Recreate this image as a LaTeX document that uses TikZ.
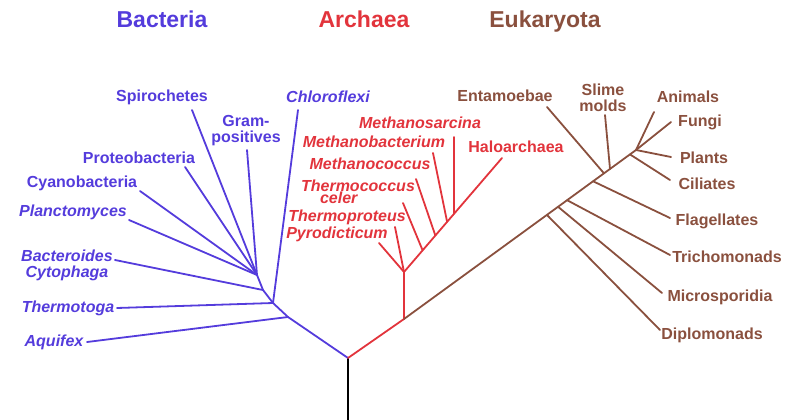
\documentclass[tikz,border=0pt]{standalone}
\usepackage{fontspec}
\setmainfont{Liberation Sans}
\usetikzlibrary{calc}
\definecolor{bacblue}{RGB}{84,60,220}
\definecolor{arcred}{RGB}{226,52,60}
\definecolor{eukbrown}{RGB}{138,80,62}
\tikzset{
  lbl/.style={font=\bfseries\fontsize{16}{16}\selectfont, inner sep=0pt, align=center},
  ilbl/.style={lbl, font=\bfseries\itshape\fontsize{16}{16}\selectfont},
  ttl/.style={font=\bfseries\fontsize{23}{23}\selectfont, inner sep=0pt, anchor=base},
  br/.style={line width=1.8pt, line cap=round},
}
\begin{document}
\begin{tikzpicture}[x=1pt, y=-1pt]
        \useasboundingbox (0,0) rectangle (800,420);

        % titles
        \node[ttl, bacblue] (tbac) at (162,28) {Bacteria};
        \node[ttl, arcred] (tarc) at (364,28) {Archaea};
        \node[ttl, eukbrown] (teuk) at (545,28) {Eukaryota};

        % root
        \coordinate (base) at (348,420);
        \coordinate (root) at (348,358);
        \draw[br, black, line cap=butt] (base) -- (root);

        % bacteria
        \coordinate (bA) at (288,317);
        \coordinate (bB) at (273,303);
        \coordinate (bC) at (263,290);
        \coordinate (bD) at (257,275);
        \coordinate (spiro) at (192,110);
        \coordinate (gram) at (247,150);
        \coordinate (chloro) at (298,110);
        \coordinate (proteo) at (185,167);
        \coordinate (cyano) at (140,191);
        \coordinate (plancto) at (129,220);
        \coordinate (bactero) at (115,260);
        \coordinate (thermo) at (117,308);
        \coordinate (aquif) at (87,342);

        \draw[br, bacblue] (root) -- (bA) -- (bB) -- (bC) -- (bD);
        \foreach \t in {spiro,gram,proteo,cyano,plancto} {
            \draw[br, bacblue] (bD) -- (\t);
        }
        \draw[br, bacblue] (bC) -- (bactero);
        \draw[br, bacblue] (bB) -- (thermo);
        \draw[br, bacblue] (bB) -- (chloro);
        \draw[br, bacblue] (bA) -- (aquif);

        \node[lbl, bacblue] (lspiro) at (162,97) {Spirochetes};
        \node[lbl, bacblue] (lgram) at (246,131) {Gram-\\positives};
        \node[ilbl, bacblue] (lchloro) at (328,97) {Chloroflexi};
        \node[lbl, bacblue] (lproteo) at (139,158) {Proteobacteria};
        \node[lbl, bacblue] (lcyano) at (82,183) {Cyanobacteria};
        \node[ilbl, bacblue] (lplancto) at (73,212) {Planctomyces};
        \node[ilbl, bacblue] (lbactero) at (67,265) {Bacteroides\\Cytophaga};
        \node[ilbl, bacblue] (lthermo) at (68,308) {Thermotoga};
        \node[ilbl, bacblue] (laquif) at (54,342) {Aquifex};

        % archaea
        \coordinate (aRoot) at (404,319);
        \coordinate (aA) at (404,272);
        \coordinate (halo) at (502,158);
        \coordinate (aB) at ($(aA)!0.19!(halo)$);
        \coordinate (aC) at ($(aA)!0.32!(halo)$);
        \coordinate (aD) at ($(aA)!0.44!(halo)$);
        \coordinate (aE) at ($(aA)!0.51!(halo)$);
        \coordinate (pyro) at (379,243);
        \coordinate (tprot) at (395,227);
        \coordinate (tcocc) at (403,203);
        \coordinate (mcocc) at (416,179);
        \coordinate (mbact) at (433,153);
        \coordinate (msarc) at (454,137);

        \draw[br, arcred] (root) -- (aRoot) -- (aA) -- (halo);
        \draw[br, arcred] (aA) -- (pyro);
        \draw[br, arcred] (aA) -- (tprot);
        \draw[br, arcred] (aB) -- (tcocc);
        \draw[br, arcred] (aC) -- (mcocc);
        \draw[br, arcred] (aD) -- (mbact);
        \draw[br, arcred] (aE) -- (msarc);

        \node[ilbl, arcred] (lmsarc) at (420,123) {Methanosarcina};
        \node[ilbl, arcred] (lmbact) at (374,142) {Methanobacterium};
        \node[ilbl, arcred] (lmcocc) at (370,164) {Methanococcus};
        \node[ilbl, arcred, align=left] (ltcocc) at (358,192) {Thermococcus\\[-4pt]\hspace*{19pt}celer};
        \node[ilbl, arcred] (ltprot) at (347,217) {Thermoproteus};
        \node[ilbl, arcred] (lpyro) at (337,234) {Pyrodicticum};
        \node[lbl, arcred] (lhalo) at (516,147) {Haloarchaea};

        % eukaryota
        \coordinate (eH) at (636,150);
        \coordinate (eA) at ($(aRoot)!0.616!(eH)$);
        \coordinate (eB) at ($(aRoot)!0.664!(eH)$);
        \coordinate (eC) at ($(aRoot)!0.703!(eH)$);
        \coordinate (eD) at ($(aRoot)!0.815!(eH)$);
        \coordinate (eE) at ($(aRoot)!0.862!(eH)$);
        \coordinate (eF) at ($(aRoot)!0.888!(eH)$);
        \coordinate (eG) at ($(aRoot)!0.974!(eH)$);
        \coordinate (entam) at (547,107);
        \coordinate (slime) at (605,115);
        \coordinate (anim) at (654,112);
        \coordinate (fungi) at (671,122);
        \coordinate (plant) at (671,157);
        \coordinate (cilia) at (670,180);
        \coordinate (flag) at (670,218);
        \coordinate (trich) at (670,255);
        \coordinate (micro) at (662,293);
        \coordinate (diplo) at (660,330);

        \draw[br, eukbrown] (aRoot) -- (eH);
        \foreach \t in {anim,fungi,plant} {
            \draw[br, eukbrown] (eH) -- (\t);
        }
        \draw[br, eukbrown] (eG) -- (cilia);
        \draw[br, eukbrown] (eF) -- (slime);
        \draw[br, eukbrown] (eE) -- (entam);
        \draw[br, eukbrown] (eD) -- (flag);
        \draw[br, eukbrown] (eC) -- (trich);
        \draw[br, eukbrown] (eB) -- (micro);
        \draw[br, eukbrown] (eA) -- (diplo);

        \node[lbl, eukbrown] (lentam) at (505,96) {Entamoebae};
        \node[lbl, eukbrown] (lslime) at (603,98) {Slime\\molds};
        \node[lbl, eukbrown] (lanim) at (688,97) {Animals};
        \node[lbl, eukbrown] (lfungi) at (700,122) {Fungi};
        \node[lbl, eukbrown] (lplant) at (704,158) {Plants};
        \node[lbl, eukbrown] (lcilia) at (707,184) {Ciliates};
        \node[lbl, eukbrown] (lflag) at (717,221) {Flagellates};
        \node[lbl, eukbrown] (ltrich) at (727,257) {Trichomonads};
        \node[lbl, eukbrown] (lmicro) at (720,297) {Microsporidia};
        \node[lbl, eukbrown] (ldiplo) at (712,335) {Diplomonads};
    \end{tikzpicture}
\end{document}
